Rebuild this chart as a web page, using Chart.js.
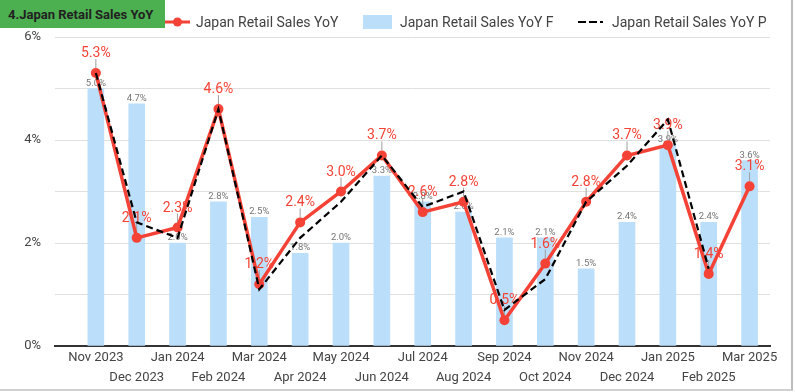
<!DOCTYPE html>
<html>
<head>
<meta charset="utf-8">
<script src="https://cdn.jsdelivr.net/npm/chart.js@4/dist/chart.umd.min.js"></script>
<style>
  html, body { margin: 0; padding: 0; background: #fff; }
  #wrap { position: relative; width: 795px; height: 392px; overflow: hidden; font-family: Roboto, sans-serif; }
  #chartBox { position: absolute; left: 0; top: 0; width: 795px; height: 392px; }
  #frame { position: absolute; left: 0; top: 0; width: 791px; height: 389px; border-right: 2px solid #bdbdbd; border-bottom: 2px solid #d0d0d0; pointer-events: none; }
  #title { position: absolute; left: 0; top: 0; width: 165px; height: 28px; background: #4caf50; color: #212121; font: bold 13px Roboto, sans-serif; line-height: 30px; padding-left: 8px; box-sizing: border-box; white-space: nowrap; }
  .lg { position: absolute; top: 12px; height: 20px; font: 14px Roboto, sans-serif; color: #424242; line-height: 20px; white-space: nowrap; }
</style>
</head>
<body>
<div id="wrap">
  <div id="chartBox"><canvas id="c"></canvas></div>
  <div id="frame"></div>
  <div id="title">4.Japan Retail Sales YoY</div>
  <div id="legend"></div>
</div>
<script>
const categories = ['Nov 2023','Dec 2023','Jan 2024','Feb 2024','Mar 2024','Apr 2024','May 2024','Jun 2024','Jul 2024','Aug 2024','Sep 2024','Oct 2024','Nov 2024','Dec 2024','Jan 2025','Feb 2025','Mar 2025'];
const actual   = [5.3, 2.1, 2.3, 4.6, 1.2, 2.4, 3.0, 3.7, 2.6, 2.8, 0.5, 1.6, 2.8, 3.7, 3.9, 1.4, 3.1];
const forecast = [5.0, 4.7, 2.0, 2.8, 2.5, 1.8, 2.0, 3.3, 2.8, 2.6, 2.1, 2.1, 1.5, 2.4, 3.9, 2.4, 3.6];
const previous = [5.3, 2.4, 2.1, 4.6, 1.1, 2.1, 2.8, 3.7, 2.7, 3.0, 0.7, 1.3, 2.8, 3.5, 4.4, 1.5, null];
const yTickLabels = { 0: '0%', 2: '2%', 4: '4%', 6: '6%' };
const seriesNames = ['Japan Retail Sales YoY', 'Japan Retail Sales YoY F', 'Japan Retail Sales YoY P'];

const RED = '#f44336', BLUE = '#bbdefb';

// HTML legend
(function () {
  const lg = document.getElementById('legend');
  lg.innerHTML =
    '<div class="lg" style="left:165px;"><svg width="26" height="20" style="position:absolute;left:0;top:0"><line x1="0" y1="10" x2="25" y2="10" stroke="' + RED + '" stroke-width="3"/><circle cx="12.5" cy="10" r="4.5" fill="' + RED + '"/></svg><span style="position:absolute;left:31px;">' + seriesNames[0] + '</span></div>' +
    '<div class="lg" style="left:363px;"><div style="position:absolute;left:0;top:3px;width:29px;height:14px;background:' + BLUE + '"></div><span style="position:absolute;left:37px;">' + seriesNames[1] + '</span></div>' +
    '<div class="lg" style="left:578px;"><svg width="26" height="20" style="position:absolute;left:0;top:0"><line x1="0" y1="10" x2="25" y2="10" stroke="#000" stroke-width="2" stroke-dasharray="8,3"/></svg><span style="position:absolute;left:34px;">' + seriesNames[2] + '</span></div>';
})();

const labelPlugin = {
  id: 'valueLabels',
  afterDatasetDraw(chart, args) {
    if (args.index !== 0) return;
    const ctx = chart.ctx;
    ctx.save();
    ctx.textAlign = 'center';
    ctx.textBaseline = 'alphabetic';
    const barMeta = chart.getDatasetMeta(0);
    ctx.font = '9.5px Roboto';
    ctx.fillStyle = '#757575';
    barMeta.data.forEach((el, i) => {
      if (forecast[i] == null) return;
      ctx.fillText(forecast[i].toFixed(1) + '%', el.x, el.y - 3);
    });
    const lineMeta = chart.getDatasetMeta(1);
    lineMeta.data.forEach((el, i) => {
      if (actual[i] == null) return;
      ctx.strokeStyle = '#9e9e9e';
      ctx.lineWidth = 1;
      ctx.beginPath();
      ctx.moveTo(el.x, el.y - 5);
      ctx.lineTo(el.x, el.y - 14);
      ctx.stroke();
      ctx.font = '14px Roboto';
      ctx.fillStyle = RED;
      ctx.fillText(actual[i].toFixed(1) + '%', el.x, el.y - 16);
    });
    ctx.restore();
  }
};

Chart.defaults.font.family = 'Roboto';
Chart.defaults.color = '#444';

const toXY = arr => arr.map((v, i) => ({ x: i, y: v }));

new Chart(document.getElementById('c'), {
  type: 'bar',
  data: {
    datasets: [
      {
        type: 'bar',
        label: seriesNames[1],
        data: toXY(forecast),
        backgroundColor: BLUE,
        borderWidth: 0,
        barThickness: 16,
        order: 3
      },
      {
        type: 'line',
        label: seriesNames[0],
        data: toXY(actual),
        borderColor: RED,
        backgroundColor: RED,
        borderWidth: 3.5,
        pointRadius: 5,
        pointBackgroundColor: RED,
        pointBorderWidth: 0,
        tension: 0,
        order: 2
      },
      {
        type: 'line',
        label: seriesNames[2],
        data: toXY(previous),
        borderColor: '#000',
        borderWidth: 2.2,
        borderDash: [7, 4],
        pointRadius: 0,
        tension: 0,
        fill: false,
        order: 1
      }
    ]
  },
  options: {
    responsive: true,
    maintainAspectRatio: false,
    animation: false,
    layout: { padding: { left: 0, right: 25, top: 37, bottom: 0 } },
    plugins: { legend: { display: false }, tooltip: { enabled: false } },
    scales: {
      x: {
        type: 'linear',
        offset: false,
        min: -1,
        max: 16.5,
        afterBuildTicks: s => { s.ticks = categories.map((_, i) => ({ value: i })); },
        afterFit: s => { s.height = 46; },
        grid: { display: false, drawTicks: false, offset: false },
        border: { display: true, color: '#333', width: 2 },
        ticks: {
          autoSkip: false,
          maxRotation: 0,
          minRotation: 0,
          padding: 1,
          color: '#444',
          font: { size: 13, lineHeight: 1.6 },
          callback: v => {
            const i = Math.round(v);
            if (i < 0 || i >= categories.length) return '';
            return i % 2 === 0 ? categories[i] : ['', categories[i]];
          }
        }
      },
      y: {
        min: 0,
        max: 6,
        afterFit: s => { s.width = 55; },
        grid: { color: '#e0e0e0', lineWidth: 1, drawTicks: false },
        border: { display: false },
        ticks: {
          stepSize: 1,
          padding: 14,
          color: '#444',
          font: { size: 13 },
          callback: v => (yTickLabels[v] !== undefined ? yTickLabels[v] : '')
        }
      }
    }
  },
  plugins: [labelPlugin]
});
</script>
</body>
</html>
